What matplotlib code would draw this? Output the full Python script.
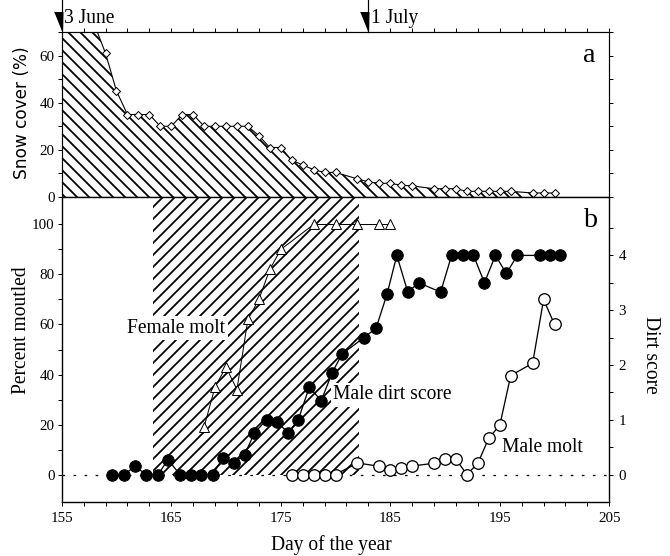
import numpy as np
import matplotlib
matplotlib.use('Agg')
import matplotlib.pyplot as plt
from matplotlib.ticker import FixedLocator

# panel a : snow cover (%)
snow_day = [158, 159, 160, 161, 162, 163, 164, 165, 166, 167, 168, 169, 170, 171,
            172, 173, 174, 175, 176, 177, 178, 179, 180, 182, 183, 184, 185, 186,
            187, 189, 190, 191, 192, 193, 194, 195, 196, 198, 199, 200]
snow_pct = [73, 61, 45, 35, 35, 35, 30, 30, 35, 35, 30, 30, 30, 30,
            30, 26, 21, 21, 15.6, 13.6, 11.6, 10.4, 10.4, 7.7, 6.4, 5.8, 5.8, 5.0,
            4.7, 3.5, 3.5, 3.5, 2.4, 2.4, 2.4, 2.4, 2.4, 1.7, 1.7, 1.7]

# dates marked above panel a
event_day = [155, 183]
event_label = ['3 June', '1 July']

# panel b : shaded period
shade_start = 163.3
shade_end = 182.1

# female molt (%)
fem_day = [168, 169, 170, 171, 172, 173, 174, 175, 178, 180, 182, 184, 185]
fem_pct = [19, 35, 43, 34, 62, 70, 82, 90, 100, 100, 100, 100, 100]

# male molt (%)
mm_day = [176, 177, 178, 179, 180, 182, 184, 185, 186, 187, 189, 190, 191,
          192, 193, 194, 195, 196, 198, 199, 200]
mm_pct = [0, 0, 0, 0, 0, 4.6, 3.3, 2.0, 2.7, 3.4, 4.5, 6.1, 6.1,
          0, 4.5, 14.6, 19.7, 39.6, 44.5, 70, 60]

# male dirt score (right axis)
dirt_day = [159.6, 160.7, 161.7, 162.7, 163.8, 164.7, 165.8, 166.8, 167.7, 168.8,
            169.7, 170.7, 171.7, 172.6, 173.7, 174.7, 175.7, 176.6, 177.6, 178.7,
            179.7, 180.6, 182.6, 183.7, 184.7, 185.6, 186.6, 187.6, 189.6, 190.6,
            191.6, 192.6, 193.6, 194.6, 195.6, 196.6, 198.7, 199.6, 200.5]
dirt = [0, 0, 0.15, 0, 0, 0.27, 0, 0, 0, 0,
        0.30, 0.21, 0.36, 0.76, 1.0, 0.95, 0.76, 1.0, 1.59, 1.35,
        1.86, 2.2, 2.5, 2.67, 3.29, 4.0, 3.33, 3.5, 3.33, 4,
        4, 4, 3.5, 4, 3.67, 4, 4, 4, 4]

plt.rcParams['font.family'] = ['Liberation Serif', 'DejaVu Serif']
plt.rcParams['hatch.linewidth'] = 1.8
plt.rcParams['axes.linewidth'] = 1.2

fig = plt.figure(figsize=(670 / 72, 556 / 72), dpi=72)
ax_a = fig.add_axes([0.0921, 0.6457, 0.8173, 0.2967])
ax_b = fig.add_axes([0.0921, 0.0971, 0.8173, 0.5486])
ax_d = ax_b.twinx()

TICK_FS = 15
LAB_FS = 19.5
day_ticks = np.arange(155, 206, 2)

# ---- panel a
fill_x = [155] + snow_day
fill_y = [snow_pct[0]] + snow_pct
ax_a.fill_between(fill_x, fill_y, 0, facecolor='none', edgecolor='black',
                  hatch='\\\\', linewidth=0)
ax_a.plot(snow_day, snow_pct, '-', color='black', lw=1.1, marker='D', ms=5.5,
          mfc='white', mec='black', mew=1)
ax_a.set_xlim(155, 205)
ax_a.set_ylim(0, 70)
ax_a.set_yticks([0, 20, 40, 60])
ax_a.set_yticks([10, 30, 50, 70], minor=True)
ax_a.xaxis.set_major_locator(FixedLocator(day_ticks))
ax_a.tick_params(axis='y', which='both', direction='out', left=True, right=True,
                 labelleft=True, labelright=False, length=4, width=1,
                 labelsize=TICK_FS, pad=3)
ax_a.tick_params(axis='x', which='both', top=True, bottom=False, labelbottom=False,
                 labeltop=False, direction='out', length=4, width=1)

vmark = [(-0.8, 1), (0.05, 1), (0, -1)]
xt = ax_a.get_xaxis_transform()
for d, lab in zip(event_day, event_label):
    ax_a.plot([d, d], [1, 1.2], color='black', lw=1.2, transform=xt, clip_on=False)
    ax_a.plot([d], [1.06], marker=vmark, ms=20, color='black', transform=xt,
              clip_on=False, lw=0)
    ax_a.text(d + 0.25, 1.085, lab, transform=xt, ha='left', va='center',
              fontsize=LAB_FS)

ax_a.text(203.2, 60.2, 'a', ha='center', va='center', fontsize=28)

# ---- panel b
yb0, yb1 = -11, 111
ax_b.set_xlim(155, 205)
ax_b.set_ylim(yb0, yb1)
scale = 21.91
ax_d.set_ylim(yb0 / scale, yb1 / scale)

ax_b.fill_between([shade_start, shade_end], 0, yb1, facecolor='none',
                  edgecolor='black', hatch='//', linewidth=0, zorder=1)
ax_b.axhline(0, color='black', lw=1.3, ls=(0, (2, 6.5)), zorder=1.5)

ax_b.plot(fem_day, fem_pct, '-', color='black', lw=1, marker='^', ms=10,
          mfc='white', mec='black', mew=1, zorder=3)
ax_b.plot(mm_day, mm_pct, '-', color='black', lw=1.3, marker='o', ms=11.5,
          mfc='white', mec='black', mew=1.3, zorder=3)
ax_d.plot(dirt_day, dirt, '-', color='black', lw=1.3, marker='o', ms=11.5,
          mfc='black', mec='black', zorder=3)

box = dict(facecolor='white', edgecolor='none', pad=2.5)
ax_b.text(161.0, 58.6, 'Female molt', ha='left', va='center', fontsize=LAB_FS,
          bbox=box, zorder=4)
ax_b.text(179.8, 31.9, 'Male dirt score', ha='left', va='center', fontsize=LAB_FS,
          bbox=box, zorder=4)
ax_b.text(195.2, 10.8, 'Male molt', ha='left', va='center', fontsize=LAB_FS,
          zorder=4)
ax_b.text(203.3, 101.6, 'b', ha='center', va='center', fontsize=28)

ax_b.set_xticks(np.arange(155, 206, 10))
ax_b.set_xticks(day_ticks, minor=True)
ax_b.set_yticks(np.arange(0, 101, 20))
ax_b.set_yticks(np.arange(10, 100, 20), minor=True)
ax_b.tick_params(axis='x', which='both', direction='out', top=False, length=4,
                 width=1, labelsize=TICK_FS, pad=6)
ax_b.tick_params(axis='y', which='both', direction='out', right=False, length=4,
                 width=1, labelsize=TICK_FS, pad=3)

ax_d.set_yticks([0, 1, 2, 3, 4])
ax_d.set_yticks(np.arange(0.5, 5, 1), minor=True)
ax_d.tick_params(axis='y', which='both', direction='out', length=4, width=1,
                 labelsize=TICK_FS, pad=5)

# axis titles
fig.text(22 / 670, 1 - 113 / 556, 'Snow cover (%)', rotation=90, ha='center',
         va='center', fontsize=17, family=['DejaVu Sans'])
fig.text(22 / 670, 1 - 330 / 556, 'Percent moutled', rotation=90, ha='center',
         va='center', fontsize=LAB_FS)
fig.text(651 / 670, 1 - 355 / 556, 'Dirt score', rotation=270, ha='center',
         va='center', fontsize=LAB_FS)
fig.text(331 / 670, 1 - 545 / 556, 'Day of the year', ha='center', va='center',
         fontsize=LAB_FS)

fig.savefig('out.png', dpi=72)
